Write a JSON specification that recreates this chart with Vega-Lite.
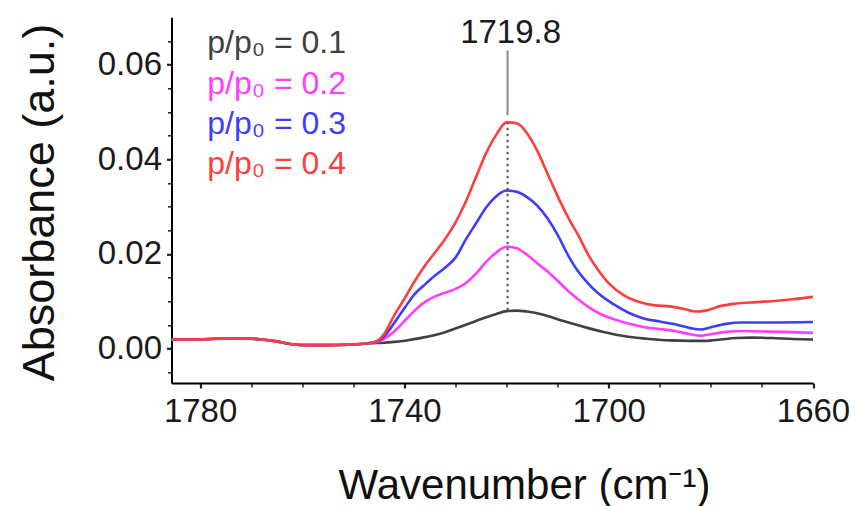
{
  "$schema": "https://vega.github.io/schema/vega-lite/v6.json",
  "width": 641.5,
  "height": 365.7,
  "autosize": "none",
  "padding": {"left": 171.5, "top": 17.3, "right": 42, "bottom": 123},
  "background": "white",
  "config": {
    "view": {"stroke": null},
    "font": "Liberation Sans",
    "axis": {"grid": false, "domainColor": "#000", "domainWidth": 2, "tickColor": "#222", "labelFont": "Liberation Sans", "titleFont": "Liberation Sans", "labelColor": "#1a1a1a", "titleColor": "#111", "titleFontWeight": "normal"}
  },
  "datasets": {
    "spectra": [
      {"s": "0.1", "wn": 1785.6, "a": 0.0019}, {"s": "0.1", "wn": 1782, "a": 0.0019}, {"s": "0.1", "wn": 1778, "a": 0.002}, {"s": "0.1", "wn": 1774, "a": 0.0021}, {"s": "0.1", "wn": 1771, "a": 0.0021}, {"s": "0.1", "wn": 1768, "a": 0.0019}, {"s": "0.1", "wn": 1765, "a": 0.0015}, {"s": "0.1", "wn": 1762, "a": 0.0009}, {"s": "0.1", "wn": 1759, "a": 0.0007}, {"s": "0.1", "wn": 1755, "a": 0.0007}, {"s": "0.1", "wn": 1751, "a": 0.0008}, {"s": "0.1", "wn": 1748, "a": 0.001}, {"s": "0.1", "wn": 1746.5, "a": 0.0011},
      {"s": "0.1", "wn": 1744, "a": 0.0012}, {"s": "0.1", "wn": 1742, "a": 0.0014}, {"s": "0.1", "wn": 1739, "a": 0.0018}, {"s": "0.1", "wn": 1736, "a": 0.0024}, {"s": "0.1", "wn": 1733, "a": 0.0031}, {"s": "0.1", "wn": 1730, "a": 0.0042}, {"s": "0.1", "wn": 1727, "a": 0.0054}, {"s": "0.1", "wn": 1724, "a": 0.0066}, {"s": "0.1", "wn": 1722, "a": 0.0073}, {"s": "0.1", "wn": 1720, "a": 0.0079}, {"s": "0.1", "wn": 1718, "a": 0.008}, {"s": "0.1", "wn": 1716, "a": 0.0078}, {"s": "0.1", "wn": 1713, "a": 0.0072}, {"s": "0.1", "wn": 1710, "a": 0.0062}, {"s": "0.1", "wn": 1707, "a": 0.0052}, {"s": "0.1", "wn": 1704, "a": 0.0043}, {"s": "0.1", "wn": 1701, "a": 0.0035}, {"s": "0.1", "wn": 1698, "a": 0.0028}, {"s": "0.1", "wn": 1695, "a": 0.0023}, {"s": "0.1", "wn": 1692, "a": 0.002}, {"s": "0.1", "wn": 1688, "a": 0.0017}, {"s": "0.1", "wn": 1684, "a": 0.0016}, {"s": "0.1", "wn": 1681, "a": 0.0016}, {"s": "0.1", "wn": 1678, "a": 0.0019}, {"s": "0.1", "wn": 1675, "a": 0.0022}, {"s": "0.1", "wn": 1672, "a": 0.0023}, {"s": "0.1", "wn": 1668, "a": 0.0022}, {"s": "0.1", "wn": 1664, "a": 0.002}, {"s": "0.1", "wn": 1660, "a": 0.0019},

      {"s": "0.2", "wn": 1785.6, "a": 0.0019}, {"s": "0.2", "wn": 1782, "a": 0.0019}, {"s": "0.2", "wn": 1778, "a": 0.002}, {"s": "0.2", "wn": 1774, "a": 0.0021}, {"s": "0.2", "wn": 1771, "a": 0.0021}, {"s": "0.2", "wn": 1768, "a": 0.0019}, {"s": "0.2", "wn": 1765, "a": 0.0015}, {"s": "0.2", "wn": 1762, "a": 0.0009}, {"s": "0.2", "wn": 1759, "a": 0.0007}, {"s": "0.2", "wn": 1755, "a": 0.0007}, {"s": "0.2", "wn": 1751, "a": 0.0008}, {"s": "0.2", "wn": 1748, "a": 0.001},
      {"s": "0.2", "wn": 1745.5, "a": 0.0013}, {"s": "0.2", "wn": 1744, "a": 0.002}, {"s": "0.2", "wn": 1742, "a": 0.0036}, {"s": "0.2", "wn": 1740, "a": 0.0058}, {"s": "0.2", "wn": 1738, "a": 0.008}, {"s": "0.2", "wn": 1736, "a": 0.0098}, {"s": "0.2", "wn": 1734, "a": 0.011}, {"s": "0.2", "wn": 1732, "a": 0.0118}, {"s": "0.2", "wn": 1730, "a": 0.0126}, {"s": "0.2", "wn": 1728, "a": 0.0138}, {"s": "0.2", "wn": 1726, "a": 0.0158}, {"s": "0.2", "wn": 1724, "a": 0.0183}, {"s": "0.2", "wn": 1722, "a": 0.0203}, {"s": "0.2", "wn": 1720, "a": 0.0215}, {"s": "0.2", "wn": 1718, "a": 0.0212}, {"s": "0.2", "wn": 1716, "a": 0.0198}, {"s": "0.2", "wn": 1714, "a": 0.018}, {"s": "0.2", "wn": 1712, "a": 0.0163}, {"s": "0.2", "wn": 1710, "a": 0.0143}, {"s": "0.2", "wn": 1708, "a": 0.0122}, {"s": "0.2", "wn": 1706, "a": 0.0104}, {"s": "0.2", "wn": 1704, "a": 0.0088}, {"s": "0.2", "wn": 1702, "a": 0.0075}, {"s": "0.2", "wn": 1699, "a": 0.0062}, {"s": "0.2", "wn": 1696, "a": 0.0052}, {"s": "0.2", "wn": 1693, "a": 0.0045}, {"s": "0.2", "wn": 1690, "a": 0.0041}, {"s": "0.2", "wn": 1687, "a": 0.0037}, {"s": "0.2", "wn": 1684, "a": 0.003}, {"s": "0.2", "wn": 1682, "a": 0.0027}, {"s": "0.2", "wn": 1680, "a": 0.003}, {"s": "0.2", "wn": 1677, "a": 0.0035}, {"s": "0.2", "wn": 1674, "a": 0.0037}, {"s": "0.2", "wn": 1670, "a": 0.0036}, {"s": "0.2", "wn": 1666, "a": 0.0035}, {"s": "0.2", "wn": 1660, "a": 0.0033},

      {"s": "0.3", "wn": 1785.6, "a": 0.0019}, {"s": "0.3", "wn": 1782, "a": 0.0019}, {"s": "0.3", "wn": 1778, "a": 0.002}, {"s": "0.3", "wn": 1774, "a": 0.0021}, {"s": "0.3", "wn": 1771, "a": 0.0021}, {"s": "0.3", "wn": 1768, "a": 0.0019}, {"s": "0.3", "wn": 1765, "a": 0.0015}, {"s": "0.3", "wn": 1762, "a": 0.0009}, {"s": "0.3", "wn": 1759, "a": 0.0007}, {"s": "0.3", "wn": 1755, "a": 0.0007}, {"s": "0.3", "wn": 1751, "a": 0.0008}, {"s": "0.3", "wn": 1748, "a": 0.001},
      {"s": "0.3", "wn": 1745.5, "a": 0.0014}, {"s": "0.3", "wn": 1744, "a": 0.0025}, {"s": "0.3", "wn": 1742, "a": 0.0054}, {"s": "0.3", "wn": 1740, "a": 0.0085}, {"s": "0.3", "wn": 1738, "a": 0.0115}, {"s": "0.3", "wn": 1736, "a": 0.0135}, {"s": "0.3", "wn": 1734, "a": 0.0154}, {"s": "0.3", "wn": 1732, "a": 0.0171}, {"s": "0.3", "wn": 1730, "a": 0.0192}, {"s": "0.3", "wn": 1728, "a": 0.023}, {"s": "0.3", "wn": 1726, "a": 0.0264}, {"s": "0.3", "wn": 1724, "a": 0.0298}, {"s": "0.3", "wn": 1722, "a": 0.0322}, {"s": "0.3", "wn": 1720, "a": 0.0334}, {"s": "0.3", "wn": 1718, "a": 0.0331}, {"s": "0.3", "wn": 1716, "a": 0.032}, {"s": "0.3", "wn": 1714, "a": 0.0302}, {"s": "0.3", "wn": 1712, "a": 0.0275}, {"s": "0.3", "wn": 1710, "a": 0.024}, {"s": "0.3", "wn": 1708, "a": 0.0198}, {"s": "0.3", "wn": 1706, "a": 0.0163}, {"s": "0.3", "wn": 1704, "a": 0.0137}, {"s": "0.3", "wn": 1702, "a": 0.0116}, {"s": "0.3", "wn": 1699, "a": 0.0093}, {"s": "0.3", "wn": 1696, "a": 0.0075}, {"s": "0.3", "wn": 1693, "a": 0.0063}, {"s": "0.3", "wn": 1690, "a": 0.0057}, {"s": "0.3", "wn": 1687, "a": 0.0051}, {"s": "0.3", "wn": 1684, "a": 0.0043}, {"s": "0.3", "wn": 1682, "a": 0.004}, {"s": "0.3", "wn": 1680, "a": 0.0045}, {"s": "0.3", "wn": 1677, "a": 0.0052}, {"s": "0.3", "wn": 1674, "a": 0.0055}, {"s": "0.3", "wn": 1668, "a": 0.0055}, {"s": "0.3", "wn": 1660, "a": 0.0056},

      {"s": "0.4", "wn": 1785.6, "a": 0.0019}, {"s": "0.4", "wn": 1782, "a": 0.0019}, {"s": "0.4", "wn": 1778, "a": 0.002}, {"s": "0.4", "wn": 1774, "a": 0.0021}, {"s": "0.4", "wn": 1771, "a": 0.0021}, {"s": "0.4", "wn": 1768, "a": 0.0019}, {"s": "0.4", "wn": 1765, "a": 0.0015}, {"s": "0.4", "wn": 1762, "a": 0.0009}, {"s": "0.4", "wn": 1759, "a": 0.0007}, {"s": "0.4", "wn": 1755, "a": 0.0007}, {"s": "0.4", "wn": 1751, "a": 0.0008}, {"s": "0.4", "wn": 1748, "a": 0.001},
      {"s": "0.4", "wn": 1746, "a": 0.0013}, {"s": "0.4", "wn": 1744, "a": 0.003}, {"s": "0.4", "wn": 1742, "a": 0.007}, {"s": "0.4", "wn": 1740, "a": 0.0105}, {"s": "0.4", "wn": 1738, "a": 0.0142}, {"s": "0.4", "wn": 1736, "a": 0.0175}, {"s": "0.4", "wn": 1734, "a": 0.0203}, {"s": "0.4", "wn": 1732, "a": 0.0232}, {"s": "0.4", "wn": 1730, "a": 0.0266}, {"s": "0.4", "wn": 1728, "a": 0.031}, {"s": "0.4", "wn": 1726, "a": 0.0362}, {"s": "0.4", "wn": 1724, "a": 0.0413}, {"s": "0.4", "wn": 1722, "a": 0.0452}, {"s": "0.4", "wn": 1720, "a": 0.0478}, {"s": "0.4", "wn": 1718, "a": 0.0476}, {"s": "0.4", "wn": 1716, "a": 0.0455}, {"s": "0.4", "wn": 1714, "a": 0.0418}, {"s": "0.4", "wn": 1712, "a": 0.037}, {"s": "0.4", "wn": 1710, "a": 0.0322}, {"s": "0.4", "wn": 1708, "a": 0.0278}, {"s": "0.4", "wn": 1706, "a": 0.024}, {"s": "0.4", "wn": 1704, "a": 0.0198}, {"s": "0.4", "wn": 1702, "a": 0.0165}, {"s": "0.4", "wn": 1700, "a": 0.0138}, {"s": "0.4", "wn": 1697, "a": 0.0112}, {"s": "0.4", "wn": 1694, "a": 0.0098}, {"s": "0.4", "wn": 1691, "a": 0.0091}, {"s": "0.4", "wn": 1688, "a": 0.0089}, {"s": "0.4", "wn": 1685, "a": 0.0083}, {"s": "0.4", "wn": 1683, "a": 0.0078}, {"s": "0.4", "wn": 1681, "a": 0.008}, {"s": "0.4", "wn": 1678, "a": 0.009}, {"s": "0.4", "wn": 1675, "a": 0.0095}, {"s": "0.4", "wn": 1671, "a": 0.0098}, {"s": "0.4", "wn": 1667, "a": 0.0101}, {"s": "0.4", "wn": 1664, "a": 0.0104}, {"s": "0.4", "wn": 1660, "a": 0.0109}
    ],
    "legendRows": [
      {"s": "0.1", "t": "p/p₀ = 0.1", "wn": 1778.6, "a": 0.0624},
      {"s": "0.2", "t": "p/p₀ = 0.2", "wn": 1778.6, "a": 0.0538},
      {"s": "0.3", "t": "p/p₀ = 0.3", "wn": 1778.6, "a": 0.0454},
      {"s": "0.4", "t": "p/p₀ = 0.4", "wn": 1778.6, "a": 0.0368}
    ],
    "dotted": [{"wn": 1719.8, "a": 0.0081, "a2": 0.0477}],
    "solid": [{"wn": 1719.8, "a": 0.0493, "a2": 0.063}],
    "peakLabel": [{"wn": 1719.2, "a": 0.0645, "t": "1719.8"}]
  },
  "encoding": {
    "x": {
      "field": "wn", "type": "quantitative",
      "scale": {"domain": [1660, 1785.6], "reverse": true, "nice": false, "zero": false},
      "axis": {
        "title": "Wavenumber (cm⁻¹)",
        "values": [1660, 1670, 1680, 1690, 1700, 1710, 1720, 1730, 1740, 1750, 1760, 1770, 1780],
        "labelExpr": "datum.value % 40 == 20 ? format(datum.value, 'd') : ''",
        "labelFontSize": 33, "labelPadding": 7, "labelFlush": false, "labelOverlap": false,
        "tickSize": {"condition": {"test": "datum.value % 40 == 20", "value": 5}, "value": 4},
        "tickWidth": {"condition": {"test": "datum.value % 40 == 20", "value": 2.2}, "value": 1.5},
        "titleFontSize": 42, "titleX": 352.5, "titleY": 115, "titleBaseline": "alphabetic", "titleAlign": "center", "titleAngle": 0
      }
    },
    "y": {
      "field": "a", "type": "quantitative",
      "scale": {"domain": [-0.0073, 0.07], "nice": false, "zero": false},
      "axis": {
        "title": "Absorbance (a.u.)",
        "values": [-0.005, 0, 0.005, 0.01, 0.015, 0.02, 0.025, 0.03, 0.035, 0.04, 0.045, 0.05, 0.055, 0.06, 0.065],
        "labelExpr": "abs(round(datum.value*1000)) % 20 == 0 ? format(datum.value, '.2f') : ''",
        "labelFontSize": 33, "labelPadding": 5, "labelFlush": false, "labelOverlap": false,
        "tickSize": {"condition": {"test": "abs(round(datum.value*1000)) % 20 == 0", "value": 5}, "value": 4},
        "tickWidth": {"condition": {"test": "abs(round(datum.value*1000)) % 20 == 0", "value": 2.2}, "value": 1.5},
        "titleFontSize": 45, "titleX": -118.5, "titleY": 184.7, "titleBaseline": "alphabetic", "titleAlign": "center", "titleAngle": -90
      }
    }
  },
  "layer": [
    {
      "data": {"name": "spectra"},
      "mark": {"type": "line", "strokeWidth": 2.6, "interpolate": "monotone"},
      "encoding": {
        "color": {"field": "s", "type": "nominal", "scale": {"domain": ["0.1", "0.2", "0.3", "0.4"], "range": ["#404040", "#ff3dff", "#3d3dff", "#ff3d3d"]}, "legend": null}
      }
    },
    {
      "data": {"name": "dotted"},
      "mark": {"type": "rule", "color": "#555", "strokeWidth": 2, "strokeDash": [2.5, 3.5]},
      "encoding": {"y2": {"field": "a2"}}
    },
    {
      "data": {"name": "solid"},
      "mark": {"type": "rule", "color": "#8c8c8c", "strokeWidth": 2},
      "encoding": {"y2": {"field": "a2"}}
    },
    {
      "data": {"name": "peakLabel"},
      "mark": {"type": "text", "fontSize": 33, "align": "center", "baseline": "alphabetic", "color": "#1a1a1a", "font": "Liberation Sans"},
      "encoding": {"text": {"field": "t"}}
    },
    {
      "data": {"name": "legendRows"},
      "mark": {"type": "text", "fontSize": 32, "align": "left", "baseline": "alphabetic", "font": "Liberation Sans"},
      "encoding": {
        "text": {"field": "t"},
        "color": {"field": "s", "type": "nominal", "legend": null}
      }
    }
  ]
}
